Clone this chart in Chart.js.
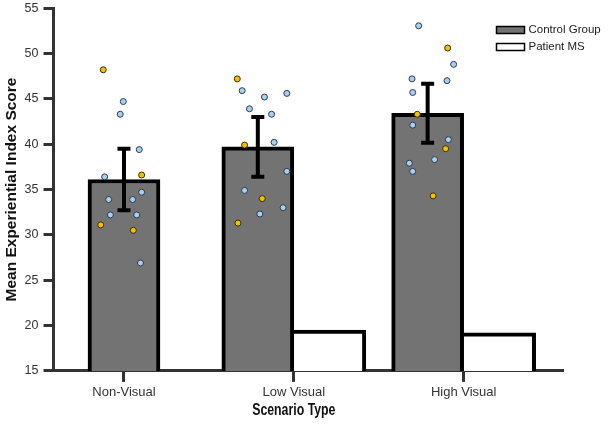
<!DOCTYPE html>
<html>
<head>
<meta charset="utf-8">
<script src="https://cdn.jsdelivr.net/npm/chart.js@4.4.0/dist/chart.umd.min.js"></script>
<style>
  html, body { margin: 0; padding: 0; background: #fff; }
  #wrap { width: 608px; height: 424px; position: relative; }
</style>
</head>
<body>
<div id="wrap"><canvas id="chart"></canvas></div>
<script>
// data
const categories = ["Non-Visual", "Low Visual", "High Visual"];
const controlMean = [36.1, 39.7, 43.4];
const controlErr = [3.4, 3.3, 3.25];
const patientMS = [null, 19.5, 19.2];
const yTickValues = [15, 20, 25, 30, 35, 40, 45, 50, 55];

// individual participants (value + horizontal jitter from the category centre)
const blueDots = [
  [44.7, 43.3, 39.4, 36.4, 34.7, 33.9, 33.9, 32.2, 32.2, 26.9],
  [45.9, 45.2, 45.6, 43.9, 43.3, 40.2, 37.0, 34.9, 33.0, 32.3],
  [53.05, 48.8, 47.2, 47.0, 45.7, 42.1, 40.5, 38.3, 37.9, 37.0]
];
const blueJitter = [
  [-0.004, -0.022, 0.09, -0.114, 0.104, -0.09, 0.051, -0.08, 0.075, 0.097],
  [-0.304, -0.173, -0.041, -0.261, -0.131, -0.116, -0.041, -0.29, -0.063, -0.2],
  [-0.265, -0.059, -0.304, -0.098, -0.3, -0.3, -0.09, -0.171, -0.32, -0.3]
];
const yellowDots = [
  [48.2, 36.6, 31.1, 30.5],
  [47.2, 39.9, 34.0, 31.3],
  [50.6, 43.3, 39.5, 34.3]
];
const yellowJitter = [
  [-0.122, 0.104, -0.137, 0.055],
  [-0.333, -0.29, -0.186, -0.329],
  [-0.094, -0.273, -0.106, -0.18]
];

const FONT = "'Liberation Sans', Arial, Helvetica, sans-serif";
const AXIS = "#333";

function toPoints(vals, jit) {
  const pts = [];
  vals.forEach((row, i) => row.forEach((v, k) => pts.push({ x: i + jit[i][k], y: v })));
  return pts;
}

// error bars drawn right after the control bars, below the dots
const errorBars = {
  id: "errorBars",
  afterDatasetDraw(chart, args) {
    if (args.index !== 0) return;
    const ctx = chart.ctx;
    const y = chart.scales.y;
    ctx.save();
    ctx.strokeStyle = "#000";
    ctx.lineWidth = 4;
    args.meta.data.forEach((bar, i) => {
      const top = y.getPixelForValue(controlMean[i] + controlErr[i]);
      const bot = y.getPixelForValue(controlMean[i] - controlErr[i]);
      ctx.beginPath();
      ctx.moveTo(bar.x, top); ctx.lineTo(bar.x, bot);
      ctx.moveTo(bar.x - 6.5, top); ctx.lineTo(bar.x + 6.5, top);
      ctx.moveTo(bar.x - 6.5, bot); ctx.lineTo(bar.x + 6.5, bot);
      ctx.stroke();
    });
    ctx.restore();
  }
};

// legend in the top right corner + x title under the middle category
const extras = {
  id: "extras",
  afterDraw(chart) {
    const ctx = chart.ctx;
    const area = chart.chartArea;
    ctx.save();
    const bx = area.right - 66.5;
    [0, 1].forEach((d, r) => {
      const ds = chart.data.datasets[d];
      const cy = 30 + r * 17;
      ctx.fillStyle = ds.backgroundColor;
      ctx.fillRect(bx, cy - 3.5, 28, 7);
      ctx.strokeStyle = "#000";
      ctx.lineWidth = 1.5;
      ctx.strokeRect(bx, cy - 3.5, 28, 7);
      ctx.fillStyle = "#222";
      ctx.font = "11.5px " + FONT;
      ctx.textBaseline = "middle";
      ctx.textAlign = "left";
      ctx.fillText(ds.label, bx + 32, cy);
    });
    // condensed bold title
    const xs = chart.scales.x;
    ctx.fillStyle = "#111";
    ctx.font = "bold 16px " + FONT;
    ctx.textAlign = "center";
    ctx.textBaseline = "middle";
    ctx.translate(xs.getPixelForValue(1), area.bottom + 40);
    ctx.scale(0.77, 1);
    ctx.fillText("Scenario Type", 0, 0);
    ctx.restore();
  }
};

new Chart(document.getElementById("chart"), {
  type: "bar",
  data: {
    datasets: [
      {
        label: "Control Group",
        data: controlMean.map((v, i) => ({ x: i, y: v })),
        backgroundColor: "#737373",
        borderColor: "#000",
        borderWidth: 4,
        borderSkipped: false,
        order: 2
      },
      {
        label: "Patient MS",
        data: patientMS.map((v, i) => ({ x: i, y: v })),
        backgroundColor: "#ffffff",
        borderColor: "#000",
        borderWidth: 4,
        borderSkipped: "left",
        order: 2
      },
      {
        type: "scatter",
        label: "dots-blue",
        data: toPoints(blueDots, blueJitter),
        backgroundColor: "#a9cff2",
        borderColor: "#2d3b4a",
        borderWidth: 1,
        pointRadius: 3,
        order: 0
      },
      {
        type: "scatter",
        label: "dots-yellow",
        data: toPoints(yellowDots, yellowJitter),
        backgroundColor: "#f4c000",
        borderColor: "#3a3000",
        borderWidth: 1,
        pointRadius: 3,
        order: 0
      }
    ]
  },
  options: {
    responsive: true,
    maintainAspectRatio: false,
    animation: false,
    skipNull: true,
    barThickness: 72,
    layout: { padding: { left: 0, right: 45, top: 0, bottom: 20.5 } },
    plugins: { legend: { display: false }, tooltip: { enabled: false } },
    scales: {
      x: {
        type: "linear",
        offset: false,
        min: -0.415,
        max: 2.585,
        afterBuildTicks: (s) => { s.ticks = categories.map((c, i) => ({ value: i })); },
        ticks: {
          callback: (v) => categories[v],
          font: { family: FONT, size: 13 },
          color: "#333",
          padding: 3
        },
        grid: { offset: false, drawOnChartArea: false, tickLength: 11, tickWidth: 3, tickColor: AXIS },
        border: { display: true, width: 3, color: AXIS }
      },
      y: {
        min: 15,
        max: 55,
        afterBuildTicks: (s) => { s.ticks = yTickValues.map(v => ({ value: v })); },
        ticks: {
          font: { family: FONT, size: 12.5, lineHeight: 0.5 },
          color: "#333",
          padding: 5
        },
        grid: { drawOnChartArea: false, tickLength: 10, tickWidth: 3, tickColor: AXIS },
        border: { display: true, width: 3, color: AXIS },
        title: {
          display: true,
          text: "Mean Experiential Index Score",
          font: { family: FONT, size: 15.5, weight: "bold" },
          color: "#111",
          padding: { top: 2.5, bottom: -1.5 }
        }
      }
    }
  },
  plugins: [errorBars, extras]
});
</script>
</body>
</html>
